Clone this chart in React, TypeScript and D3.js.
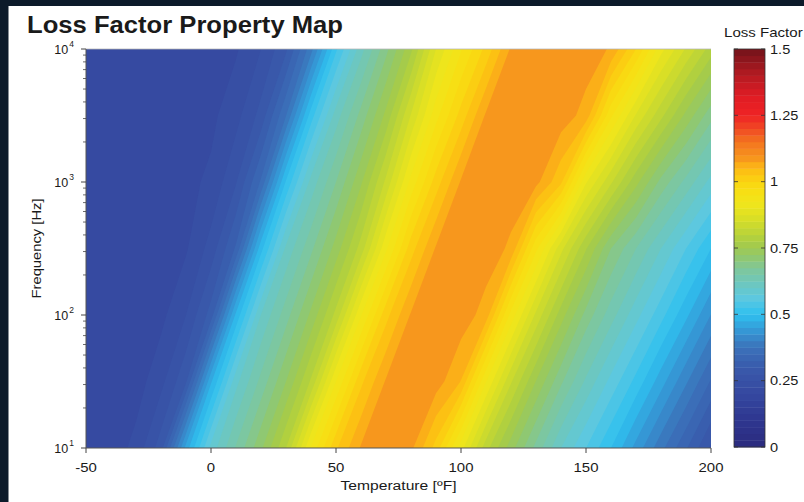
import React, { useEffect, useRef } from 'react';
import * as d3 from 'd3';

// grid: temperature columns (°F), frequency rows (log10 Hz), top row first
const temperatures = [-50, -40, -30, -20, -10, 0, 10, 20, 30, 40, 50, 60, 70, 80, 90, 100, 110, 120, 130, 140, 150, 160, 170, 180, 190, 200];
const freqExponents = [4, 3.5, 3, 2.5, 2, 1.5, 1];

const loss10000Hz = [0.205, 0.205, 0.207, 0.21, 0.213, 0.217, 0.222, 0.25, 0.295, 0.39, 0.52, 0.615, 0.692, 0.769, 0.875, 0.947, 1.008, 1.079, 1.09, 1.09, 1.09, 1.072, 1.0, 0.909, 0.847, 0.788];
const loss3162Hz = [0.205, 0.205, 0.207, 0.21, 0.214, 0.219, 0.241, 0.284, 0.374, 0.513, 0.612, 0.684, 0.757, 0.852, 0.941, 1.01, 1.079, 1.09, 1.09, 1.09, 1.065, 0.955, 0.872, 0.807, 0.743, 0.684];
const loss1000Hz = [0.205, 0.206, 0.208, 0.212, 0.218, 0.23, 0.273, 0.354, 0.503, 0.609, 0.675, 0.746, 0.831, 0.933, 1.012, 1.078, 1.09, 1.09, 1.083, 1.03, 0.903, 0.829, 0.758, 0.692, 0.642, 0.591];
const loss316Hz = [0.205, 0.207, 0.21, 0.215, 0.222, 0.26, 0.329, 0.491, 0.606, 0.669, 0.736, 0.811, 0.92, 1.014, 1.078, 1.09, 1.09, 1.07, 0.956, 0.858, 0.777, 0.70, 0.65, 0.60, 0.55, 0.50];
const loss100Hz = [0.205, 0.207, 0.211, 0.218, 0.25, 0.311, 0.481, 0.601, 0.664, 0.731, 0.808, 0.923, 1.016, 1.078, 1.09, 1.09, 1.064, 0.941, 0.844, 0.762, 0.691, 0.636, 0.584, 0.534, 0.481, 0.424];
const loss32Hz = [0.205, 0.208, 0.213, 0.242, 0.296, 0.471, 0.592, 0.658, 0.725, 0.804, 0.925, 1.019, 1.078, 1.09, 1.088, 1.049, 0.926, 0.828, 0.749, 0.68, 0.62, 0.567, 0.517, 0.461, 0.404, 0.347];
const loss10Hz = [0.205, 0.21, 0.233, 0.288, 0.46, 0.584, 0.653, 0.72, 0.80, 0.928, 1.021, 1.078, 1.09, 1.081, 1.015, 0.911, 0.81, 0.736, 0.667, 0.60, 0.55, 0.50, 0.441, 0.383, 0.328, 0.27];

const lossGrid = [loss10000Hz, loss3162Hz, loss1000Hz, loss316Hz, loss100Hz, loss32Hz, loss10Hz];

const tempTicks = [-50, 0, 50, 100, 150, 200];
const freqTickExponents = [1, 2, 3, 4];
const colorbarTicks = [0, 0.25, 0.5, 0.75, 1, 1.25, 1.5];

// colormap stops (loss factor -> colour)
const cmapStops = [0, 0.1, 0.2, 0.3, 0.38, 0.44, 0.5, 0.56, 0.62, 0.67, 0.72, 0.77, 0.82, 0.87, 0.92, 0.98, 1.03, 1.06, 1.085, 1.15, 1.2, 1.25, 1.32, 1.4, 1.5];
const cmapColors = ['#2a2b7e', '#2e368f', '#3548a0', '#395aab', '#3b74bb', '#3598d6', '#2fc1ef', '#5cc8e0', '#6ec7bd', '#7fc79c', '#92c86a', '#a8cc45', '#c3d733', '#dde024', '#f1e61a', '#f9dc12', '#fcc612', '#fbb218', '#f7981d', '#f3741f', '#f04a24', '#ee2325', '#e01c24', '#b51b22', '#73131a'];

const FONT = '"Liberation Sans", Arial, Helvetica, sans-serif';

export default function App() {
  const svgRef = useRef<SVGSVGElement>(null);

  useEffect(() => {
    if (!svgRef.current) return;
    const width = 804;
    const height = 502;
    const plot = { left: 86, right: 711, top: 49, bottom: 448 };
    const bar = { left: 734, right: 765, top: 49, bottom: 447 };

    const svg = d3.select(svgRef.current);
    svg.selectAll('*').remove();

    // page frame
    svg.append('rect').attr('width', width).attr('height', height).attr('fill', '#0c1a2a');
    svg.append('rect').attr('x', 8.5).attr('y', 6).attr('width', width).attr('height', height).attr('fill', '#ffffff');

    const x = d3.scaleLinear().domain([-50, 200]).range([plot.left, plot.right]);
    const y = d3.scaleLog().domain([10, 10000]).range([plot.bottom, plot.top]);
    const cmap = d3.scaleLinear<string>().domain(cmapStops).range(cmapColors).interpolate(d3.interpolateRgb).clamp(true);

    const step = 0.025;
    const levels = d3.range(61).map((i) => +(i * step).toFixed(3));

    // filled contours
    const nx = temperatures.length;
    const ny = freqExponents.length;
    const contours = d3.contours().size([nx, ny]).thresholds(levels)(lossGrid.flat());
    const gxToT = d3.scaleLinear().domain([0.5, nx - 0.5]).range([temperatures[0], temperatures[nx - 1]]);
    const gyToExp = d3.scaleLinear().domain([0.5, ny - 0.5]).range([freqExponents[0], freqExponents[ny - 1]]);
    const proj = d3.geoTransform({
      point(px: number, py: number) {
        (this as any).stream.point(x(gxToT(px)), y(Math.pow(10, gyToExp(py))));
      },
    });
    const path = d3.geoPath(proj);

    svg.append('clipPath').attr('id', 'plot-clip')
      .append('rect')
      .attr('x', plot.left).attr('y', plot.top)
      .attr('width', plot.right - plot.left).attr('height', plot.bottom - plot.top);

    svg.append('g').attr('clip-path', 'url(#plot-clip)')
      .selectAll('path')
      .data(contours)
      .enter()
      .append('path')
      .attr('d', (d: any) => path(d) || '')
      .attr('fill', (d: any) => cmap(d.value + step / 2));

    // axes lines
    svg.append('line').attr('x1', plot.left).attr('x2', plot.right).attr('y1', plot.top).attr('y2', plot.top)
      .attr('stroke', '#b8b8b8').attr('stroke-width', 0.8);
    svg.append('line').attr('x1', plot.left).attr('x2', plot.left).attr('y1', plot.top).attr('y2', plot.bottom)
      .attr('stroke', '#555').attr('stroke-width', 1);
    svg.append('line').attr('x1', plot.left).attr('x2', plot.right).attr('y1', plot.bottom).attr('y2', plot.bottom)
      .attr('stroke', '#555').attr('stroke-width', 1);

    const stretchText = (g: any, tx: number, ty: number, txt: string, size: number, anchor: string, sx = 1.15) =>
      g.append('text')
        .attr('transform', `translate(${tx},${ty}) scale(${sx},1)`)
        .attr('text-anchor', anchor)
        .attr('font-family', FONT)
        .attr('font-size', size)
        .attr('fill', '#1a1a1a')
        .text(txt);

    // x ticks
    const xAxis = svg.append('g');
    tempTicks.forEach((t) => {
      xAxis.append('line').attr('x1', x(t)).attr('x2', x(t)).attr('y1', plot.bottom).attr('y2', plot.bottom + 5)
        .attr('stroke', '#444').attr('stroke-width', 1);
      stretchText(xAxis, x(t), 472, String(t), 13, 'middle');
    });
    stretchText(svg, (plot.left + plot.right) / 2, 490, 'Temperature [ºF]', 13.5, 'middle', 1.16);

    // y ticks (log)
    const yAxis = svg.append('g');
    freqTickExponents.forEach((e, i) => {
      const v = Math.pow(10, e);
      yAxis.append('line').attr('x1', plot.left - 5).attr('x2', plot.left).attr('y1', y(v)).attr('y2', y(v))
        .attr('stroke', '#444').attr('stroke-width', 1);
      const label = yAxis.append('text')
        .attr('x', 74).attr('y', y(v) + 4.5)
        .attr('text-anchor', 'end')
        .attr('font-family', FONT).attr('font-size', 12.5).attr('fill', '#1a1a1a');
      label.append('tspan').text('10');
      label.append('tspan').attr('dy', -7).attr('dx', 1).attr('font-size', 8.5).text(String(e));
      if (i < freqTickExponents.length - 1) {
        d3.range(2, 10).forEach((m) => {
          const mv = m * v;
          yAxis.append('line').attr('x1', plot.left - 3).attr('x2', plot.left).attr('y1', y(mv)).attr('y2', y(mv))
            .attr('stroke', '#444').attr('stroke-width', 0.8);
        });
      }
    });
    svg.append('text')
      .attr('transform', `translate(41,${(plot.top + plot.bottom) / 2}) rotate(-90)`)
      .attr('text-anchor', 'middle')
      .attr('font-family', FONT).attr('font-size', 13).attr('fill', '#1a1a1a')
      .attr('textLength', 100).attr('lengthAdjust', 'spacingAndGlyphs')
      .text('Frequency [Hz]');

    // colorbar
    const cb = d3.scaleLinear().domain([0, 1.5]).range([bar.bottom, bar.top]);
    const cbG = svg.append('g');
    cbG.selectAll('rect')
      .data(levels.slice(0, -1))
      .enter()
      .append('rect')
      .attr('x', bar.left)
      .attr('width', bar.right - bar.left)
      .attr('y', (d) => cb(d + step))
      .attr('height', (d) => cb(d) - cb(d + step) + 0.4)
      .attr('fill', (d) => cmap(d + step / 2));
    cbG.append('rect').attr('x', bar.left).attr('y', bar.top)
      .attr('width', bar.right - bar.left).attr('height', bar.bottom - bar.top)
      .attr('fill', 'none').attr('stroke', '#333').attr('stroke-width', 0.8);
    colorbarTicks.forEach((t) => {
      cbG.append('line').attr('x1', bar.left).attr('x2', bar.left + 4).attr('y1', cb(t)).attr('y2', cb(t))
        .attr('stroke', '#333').attr('stroke-width', 0.8);
      cbG.append('line').attr('x1', bar.right - 4).attr('x2', bar.right).attr('y1', cb(t)).attr('y2', cb(t))
        .attr('stroke', '#333').attr('stroke-width', 0.8);
      stretchText(cbG, 770, cb(t) + 4.5, String(t), 13, 'start', 1.12);
    });
    stretchText(svg, 724, 37, 'Loss Factor', 13, 'start', 1.16);

    // title
    svg.append('text')
      .attr('x', 27).attr('y', 33)
      .attr('font-family', FONT).attr('font-size', 23).attr('font-weight', 'bold').attr('fill', '#1a1a1a')
      .attr('textLength', 316).attr('lengthAdjust', 'spacingAndGlyphs')
      .text('Loss Factor Property Map');
  }, []);

  return (
    <svg
      ref={svgRef}
      width={804}
      height={502}
      style={{ position: 'absolute', left: 0, top: 0, display: 'block' }}
    />
  );
}
